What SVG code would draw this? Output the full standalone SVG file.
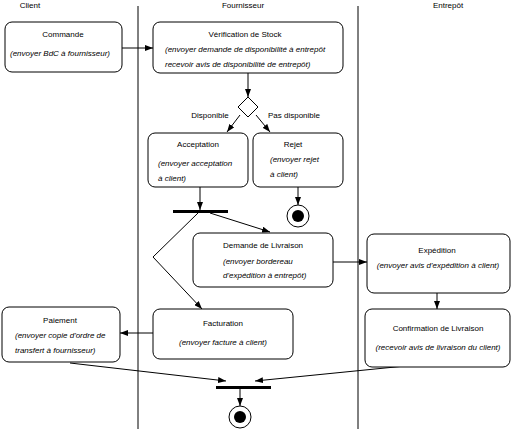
<svg xmlns="http://www.w3.org/2000/svg" width="512" height="429" viewBox="0 0 512 429">
<defs>
<marker id="ah" viewBox="0 0 8 6" refX="8" refY="3" markerWidth="8" markerHeight="6" markerUnits="userSpaceOnUse" orient="auto">
<path d="M0,0 L8,3 L0,6 Z" fill="#000"/>
</marker>
<style>
text{font-family:"Liberation Sans",Arial,sans-serif;font-size:8px;fill:#000}
.t{text-anchor:middle}
.i{font-style:italic}
.box{fill:#fff;stroke:#000;stroke-width:1}
.c{stroke:#000;stroke-width:1;fill:none}
.a{marker-end:url(#ah)}
.lane{stroke:#000;stroke-width:1}
</style>
</defs>
<rect width="512" height="429" fill="#fff"/>
<g id="lanes">
<line class="lane" x1="138" y1="6" x2="138" y2="429"/>
<line class="lane" x1="358" y1="6" x2="358" y2="429"/>
<text x="30" y="8" class="t">Client</text>
<text x="243" y="8" class="t">Fournisseur</text>
<text x="448" y="8" class="t">Entrepôt</text>
</g>
<g id="connectors">
<line class="c a" x1="122" y1="48" x2="153" y2="48"/>
<line class="c a" x1="248" y1="73" x2="248" y2="97"/>
<line class="c a" x1="240" y1="115" x2="227" y2="132"/>
<line class="c a" x1="256" y1="115" x2="270" y2="132"/>
<line class="c a" x1="200" y1="187" x2="200" y2="210"/>
<line class="c a" x1="298" y1="187" x2="298" y2="205"/>
<line class="c a" x1="210" y1="213" x2="270" y2="232"/>
<polyline class="c a" points="198,213 153,257 202,309"/>
<line class="c a" x1="333" y1="262" x2="367" y2="262"/>
<line class="c a" x1="437" y1="293" x2="437" y2="309"/>
<line class="c a" x1="153" y1="333" x2="120" y2="333"/>
<line class="c a" x1="70" y1="363" x2="226" y2="381"/>
<line class="c a" x1="405" y1="366" x2="255" y2="381"/>
<line class="c a" x1="240" y1="388" x2="240" y2="406"/>
</g>
<g id="commande">
<rect class="box" x="5" y="22" width="117" height="50" rx="7"/>
<text x="63" y="37" class="t">Commande</text>
<text x="60" y="56" class="t i">(envoyer BdC à fournisseur)</text>
</g>
<g id="verification">
<rect class="box" x="153" y="22" width="190" height="51" rx="7"/>
<text x="245" y="37" class="t">Vérification de Stock</text>
<text x="165" y="52" class="i">(envoyer demande de disponibilité à entrepôt</text>
<text x="165" y="67" class="i">recevoir avis de disponibilité de entrepôt)</text>
</g>
<g id="decision">
<polygon points="248,97 258,107 248,117 238,107" fill="#fff" stroke="#000"/>
<text x="210" y="118" class="t">Disponible</text>
<text x="294" y="118" class="t">Pas disponible</text>
</g>
<g id="acceptation">
<rect class="box" x="148" y="133" width="100" height="54" rx="7"/>
<text x="198" y="147" class="t">Acceptation</text>
<text x="158" y="166" class="i">(envoyer acceptation</text>
<text x="158" y="181" class="i">à client)</text>
</g>
<g id="rejet">
<rect class="box" x="253" y="133" width="90" height="54" rx="7"/>
<text x="293" y="147" class="t">Rejet</text>
<text x="270" y="162" class="i">(envoyer rejet</text>
<text x="270" y="177" class="i">à client)</text>
</g>
<g id="fork">
<rect x="173" y="210" width="55" height="3" fill="#000"/>
</g>
<g id="final1">
<circle cx="298" cy="216" r="11" fill="#fff" stroke="#000"/>
<circle cx="298" cy="216" r="6" fill="#000"/>
</g>
<g id="demande">
<rect class="box" x="193" y="233" width="140" height="54" rx="7"/>
<text x="223" y="248">Demande de Livraison</text>
<text x="223" y="264" class="i">(envoyer bordereau</text>
<text x="223" y="278" class="i">d'expédition à entrepôt)</text>
</g>
<g id="expedition">
<rect class="box" x="367" y="234" width="143" height="59" rx="7"/>
<text x="437" y="253" class="t">Expédition</text>
<text x="438" y="268" class="t i">(envoyer avis d'expédition à client)</text>
</g>
<g id="confirmation">
<rect class="box" x="365" y="309" width="145" height="58" rx="7"/>
<text x="438" y="331" class="t">Confirmation de Livraison</text>
<text x="438" y="350" class="t i">(recevoir avis de livraison du client)</text>
</g>
<g id="facturation">
<rect class="box" x="153" y="309" width="140" height="50" rx="7"/>
<text x="223" y="326" class="t">Facturation</text>
<text x="223" y="345" class="t i">(envoyer facture à client)</text>
</g>
<g id="paiement">
<rect class="box" x="2" y="307" width="118" height="55" rx="7"/>
<text x="60" y="323" class="t">Paiement</text>
<text x="15" y="338" class="i">(envoyer copie d'ordre de</text>
<text x="15" y="353" class="i">transfert à fournisseur)</text>
</g>
<g id="join">
<rect x="216" y="386" width="55" height="3" fill="#000"/>
</g>
<g id="final2">
<circle cx="240" cy="417" r="11" fill="#fff" stroke="#000"/>
<circle cx="240" cy="417" r="6" fill="#000"/>
</g>
</svg>
